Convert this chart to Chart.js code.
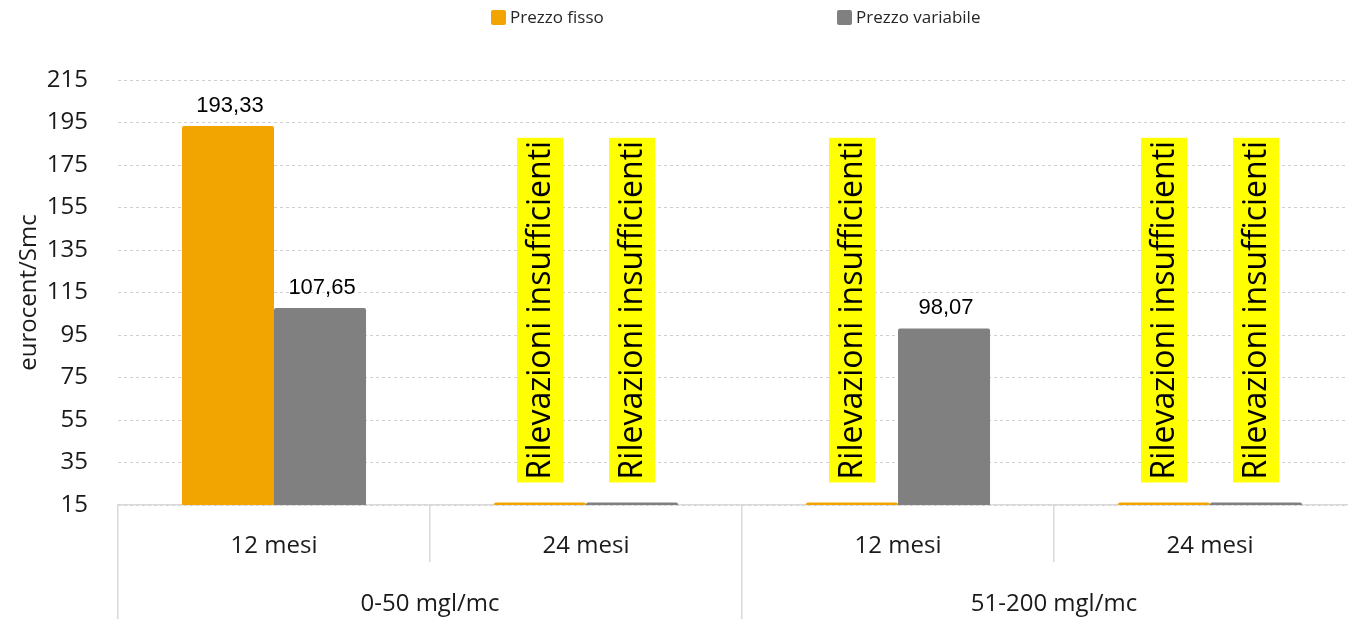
<!DOCTYPE html>
<html lang="it">
<head>
<meta charset="utf-8">
<title>Prezzo fisso / variabile</title>
<script src="https://cdn.jsdelivr.net/npm/chart.js@4/dist/chart.umd.min.js"></script>
<style>
    html, body { margin: 0; padding: 0; background: #fff; overflow: hidden; }
    #wrap { position: relative; width: 1366px; height: 619px; }
</style>
</head>
<body>
<div id="wrap"><canvas id="chart"></canvas></div>
<script>
// ── Data ─────────────────────────────────────────────────────
const categories = ['12 mesi', '24 mesi', '12 mesi', '24 mesi'];
const groups = ['0-50 mgl/mc', '51-200 mgl/mc'];

const prezzoFisso = [193.33, 16.2, 16.2, 16.2];
const prezzoVariabile = [107.65, 16.2, 98.07, 16.2];

// true = "Rilevazioni insufficienti" instead of a value
const fissoInsuff = [false, true, true, true];
const variabileInsuff = [false, true, false, true];

const yMin = 15;
const yMax = 215;
const yStep = 20;

const NOTE = 'Rilevazioni insufficienti';
const FONT = "'Open Sans', 'Noto Sans', sans-serif";

function fmt(n) {
    return n.toLocaleString('it-IT', { minimumFractionDigits: 2, maximumFractionDigits: 2 });
}

// ── Plugins ──────────────────────────────────────────────────
const barLabels = {
    id: 'barLabels',
    afterDatasetsDraw(chart) {
        const ctx = chart.ctx;
        const flags = [fissoInsuff, variabileInsuff];
        chart.data.datasets.forEach((ds, i) => {
            const meta = chart.getDatasetMeta(i);
            meta.data.forEach((bar, j) => {
                ctx.save();
                if (flags[i][j]) {
                    // rotated note with yellow background
                    ctx.translate(bar.x, bar.y - 20);
                    ctx.rotate(-Math.PI / 2);
                    ctx.font = `32px ${FONT}`;
                    const w = ctx.measureText(NOTE).width;
                    ctx.fillStyle = '#ffff00';
                    ctx.fillRect(0, -23, w + 6, 46);
                    ctx.fillStyle = '#000';
                    ctx.textBaseline = 'middle';
                    ctx.textAlign = 'left';
                    ctx.fillText(NOTE, 3, 1);
                } else {
                    ctx.font = "22px 'Liberation Sans', Arial, sans-serif";
                    ctx.fillStyle = '#000';
                    ctx.textAlign = 'center';
                    ctx.textBaseline = 'alphabetic';
                    ctx.fillText(fmt(ds.data[j]), bar.x + 2, bar.y - 14);
                }
                ctx.restore();
            });
        });
    },
};

const topLegend = {
    id: 'topLegend',
    afterDraw(chart) {
        const ctx = chart.ctx;
        const xs = [491, 837];
        chart.data.datasets.forEach((ds, i) => {
            ctx.save();
            ctx.fillStyle = ds.backgroundColor;
            ctx.beginPath();
            ctx.roundRect(xs[i], 10, 15, 15, 2);
            ctx.fill();
            ctx.font = `17px ${FONT}`;
            ctx.fillStyle = '#262626';
            ctx.textBaseline = 'middle';
            ctx.fillText(ds.label, xs[i] + 19, 18);
            ctx.restore();
        });
    },
};

// ── Chart ────────────────────────────────────────────────────
new Chart(document.getElementById('chart'), {
    type: 'bar',
    data: {
        labels: categories,
        datasets: [
            {
                label: 'Prezzo fisso',
                data: prezzoFisso,
                backgroundColor: '#f2a400',
                borderRadius: 2,
                borderSkipped: 'bottom',
            },
            {
                label: 'Prezzo variabile',
                data: prezzoVariabile,
                backgroundColor: '#808080',
                borderRadius: 2,
                borderSkipped: 'bottom',
            },
        ],
    },
    options: {
        responsive: true,
        maintainAspectRatio: false,
        animation: false,
        categoryPercentage: 0.59,
        barPercentage: 1,
        layout: { padding: { top: 80, left: 0, right: 0, bottom: 0 } },
        plugins: {
            legend: { display: false },
            tooltip: { enabled: false },
        },
        scales: {
            y: {
                min: yMin,
                max: yMax,
                afterFit: s => { s.width = 118; },
                ticks: {
                    stepSize: yStep,
                    padding: 30,
                    color: '#1a1a1a',
                    font: { family: FONT, size: 24 },
                },
                grid: {
                    drawTicks: false,
                    color: '#cfcfcf',
                    lineWidth: 1,
                },
                border: { display: false, dash: [3, 3] },
                title: {
                    display: true,
                    text: 'eurocent/Smc',
                    color: '#1a1a1a',
                    font: { family: FONT, size: 24 },
                    padding: { top: 15, bottom: 0 },
                },
            },
            x: {
                type: 'category',
                offset: true,
                afterFit: s => { s.height = 57; },
                ticks: {
                    autoSkip: false,
                    maxRotation: 0,
                    padding: -30,
                    color: '#1a1a1a',
                    font: { family: FONT, size: 24 },
                },
                grid: {
                    offset: true,
                    drawOnChartArea: false,
                    tickLength: 57,
                    color: '#d9d9d9',
                    lineWidth: 1.5,
                },
                border: { display: true, color: '#d9d9d9', width: 1.5 },
            },
            x2: {
                type: 'category',
                position: 'bottom',
                labels: groups,
                offset: true,
                afterFit: s => { s.height = 57; },
                ticks: {
                    autoSkip: false,
                    maxRotation: 0,
                    padding: -29,
                    color: '#1a1a1a',
                    font: { family: FONT, size: 24 },
                },
                grid: {
                    offset: true,
                    drawOnChartArea: false,
                    tickLength: 57,
                    color: '#d9d9d9',
                    lineWidth: 1.5,
                },
                border: { display: false },
            },
        },
    },
    plugins: [barLabels, topLegend],
});
</script>
</body>
</html>
